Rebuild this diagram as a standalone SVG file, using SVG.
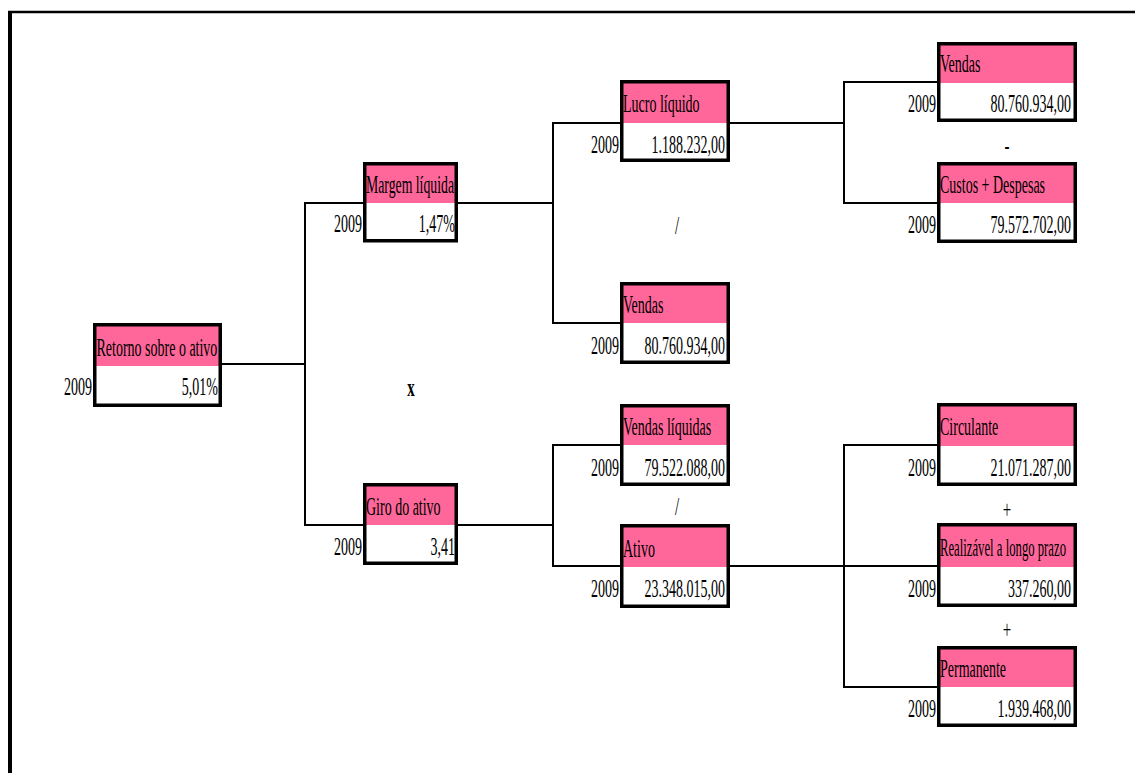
<svg xmlns="http://www.w3.org/2000/svg" width="1135" height="773" viewBox="0 0 1135 773">
<style>
.hd{fill:#FF6699}
.bx{fill:none;stroke:#000;stroke-width:3.5}
text{font-family:"Liberation Serif","Times New Roman",serif;font-size:25px;fill:#000}
.v{text-anchor:end}
.op{text-anchor:middle}
.c{fill:none;stroke:#000;stroke-width:2}
</style>
<rect width="1135" height="773" fill="#fff"/>
<g id="frame">
<line x1="8" y1="12" x2="1135" y2="12" stroke="#000" stroke-width="2.5"/>
<line x1="10" y1="12" x2="10" y2="773" stroke="#000" stroke-width="4"/>
</g>
<g id="connectors">
<polyline class="c" points="222,364 305,364"/>
<polyline class="c" points="363,203 305,203 305,525 363,525"/>
<polyline class="c" points="458,203 553,203"/>
<polyline class="c" points="620,123 553,123 553,323 620,323"/>
<polyline class="c" points="458,525 553,525"/>
<polyline class="c" points="620,445 553,445 553,566 620,566"/>
<polyline class="c" points="730,123 844,123"/>
<polyline class="c" points="937,82 844,82 844,203 937,203"/>
<polyline class="c" points="730,566 937,566"/>
<polyline class="c" points="937,445 844,445 844,687 937,687"/>
</g>
<g id="operators">
<text class="op" transform="translate(411,396) scale(0.6,1)" font-weight="bold" font-size="20">x</text>
<text class="op" transform="translate(677,234) scale(0.6,1)">/</text>
<text class="op" transform="translate(677,515) scale(0.6,1)">/</text>
<text class="op" transform="translate(1007,154) scale(0.6,1)">-</text>
<text class="op" transform="translate(1007,518) scale(0.6,1)">+</text>
<text class="op" transform="translate(1007,638) scale(0.6,1)">+</text>
</g>
<g id="n-retorno">
<rect class="hd" x="93" y="323" width="129" height="43"/>
<rect class="bx" x="94.75" y="324.75" width="125.5" height="80.5"/>
<text transform="translate(96.5,356) scale(0.56,1)">Retorno sobre o ativo</text>
<text class="v" transform="translate(218,395) scale(0.56,1)">5,01%</text>
<text class="v" transform="translate(92,395) scale(0.56,1)">2009</text>
</g>
<g id="n-margem">
<rect class="hd" x="363" y="162" width="95" height="41"/>
<rect class="bx" x="364.75" y="163.75" width="91.5" height="77"/>
<text x="366" y="193" textLength="88" lengthAdjust="spacingAndGlyphs">Margem líquida</text>
<text class="v" transform="translate(455,232) scale(0.56,1)">1,47%</text>
<text class="v" transform="translate(362,232) scale(0.56,1)">2009</text>
</g>
<g id="n-giro">
<rect class="hd" x="363" y="483" width="95" height="42"/>
<rect class="bx" x="364.75" y="484.75" width="91.5" height="78.5"/>
<text transform="translate(366,515) scale(0.56,1)">Giro do ativo</text>
<text class="v" transform="translate(455,555) scale(0.56,1)">3,41</text>
<text class="v" transform="translate(362,555) scale(0.56,1)">2009</text>
</g>
<g id="n-lucro">
<rect class="hd" x="620" y="80" width="110" height="43"/>
<rect class="bx" x="621.75" y="81.75" width="106.5" height="78.5"/>
<text transform="translate(623,112) scale(0.56,1)">Lucro líquido</text>
<text class="v" transform="translate(725,153) scale(0.56,1)">1.188.232,00</text>
<text class="v" transform="translate(619,153) scale(0.56,1)">2009</text>
</g>
<g id="n-vendas-mid">
<rect class="hd" x="620" y="282" width="110" height="41"/>
<rect class="bx" x="621.75" y="283.75" width="106.5" height="78.5"/>
<text transform="translate(623,313) scale(0.56,1)">Vendas</text>
<text class="v" transform="translate(725,354) scale(0.56,1)">80.760.934,00</text>
<text class="v" transform="translate(619,354) scale(0.56,1)">2009</text>
</g>
<g id="n-vendas-liquidas">
<rect class="hd" x="620" y="404" width="110" height="41"/>
<rect class="bx" x="621.75" y="405.75" width="106.5" height="78.5"/>
<text transform="translate(623,435) scale(0.56,1)">Vendas líquidas</text>
<text class="v" transform="translate(725,476) scale(0.56,1)">79.522.088,00</text>
<text class="v" transform="translate(619,476) scale(0.56,1)">2009</text>
</g>
<g id="n-ativo">
<rect class="hd" x="620" y="524" width="110" height="43"/>
<rect class="bx" x="621.75" y="525.75" width="106.5" height="80.5"/>
<text transform="translate(623,557) scale(0.56,1)">Ativo</text>
<text class="v" transform="translate(725,597) scale(0.56,1)">23.348.015,00</text>
<text class="v" transform="translate(619,597) scale(0.56,1)">2009</text>
</g>
<g id="n-vendas-right">
<rect class="hd" x="937" y="42" width="140" height="41"/>
<rect class="bx" x="938.75" y="43.75" width="136.5" height="76.5"/>
<text transform="translate(940,72) scale(0.56,1)">Vendas</text>
<text class="v" transform="translate(1071,112) scale(0.56,1)">80.760.934,00</text>
<text class="v" transform="translate(936,112) scale(0.56,1)">2009</text>
</g>
<g id="n-custos">
<rect class="hd" x="937" y="162" width="140" height="41"/>
<rect class="bx" x="938.75" y="163.75" width="136.5" height="77.5"/>
<text transform="translate(940,193) scale(0.56,1)">Custos + Despesas</text>
<text class="v" transform="translate(1071,233) scale(0.56,1)">79.572.702,00</text>
<text class="v" transform="translate(936,233) scale(0.56,1)">2009</text>
</g>
<g id="n-circulante">
<rect class="hd" x="937" y="403" width="140" height="43"/>
<rect class="bx" x="938.75" y="404.75" width="136.5" height="79.5"/>
<text transform="translate(940,435) scale(0.56,1)">Circulante</text>
<text class="v" transform="translate(1071,476) scale(0.56,1)">21.071.287,00</text>
<text class="v" transform="translate(936,476) scale(0.56,1)">2009</text>
</g>
<g id="n-realizavel">
<rect class="hd" x="937" y="523" width="140" height="44"/>
<rect class="bx" x="938.75" y="524.75" width="136.5" height="80.5"/>
<text x="940" y="556" textLength="126" lengthAdjust="spacingAndGlyphs">Realizável a longo prazo</text>
<text class="v" transform="translate(1071,597) scale(0.56,1)">337.260,00</text>
<text class="v" transform="translate(936,597) scale(0.56,1)">2009</text>
</g>
<g id="n-permanente">
<rect class="hd" x="937" y="646" width="140" height="41"/>
<rect class="bx" x="938.75" y="647.75" width="136.5" height="77.5"/>
<text transform="translate(940,677) scale(0.56,1)">Permanente</text>
<text class="v" transform="translate(1071,717) scale(0.56,1)">1.939.468,00</text>
<text class="v" transform="translate(936,717) scale(0.56,1)">2009</text>
</g>
</svg>
